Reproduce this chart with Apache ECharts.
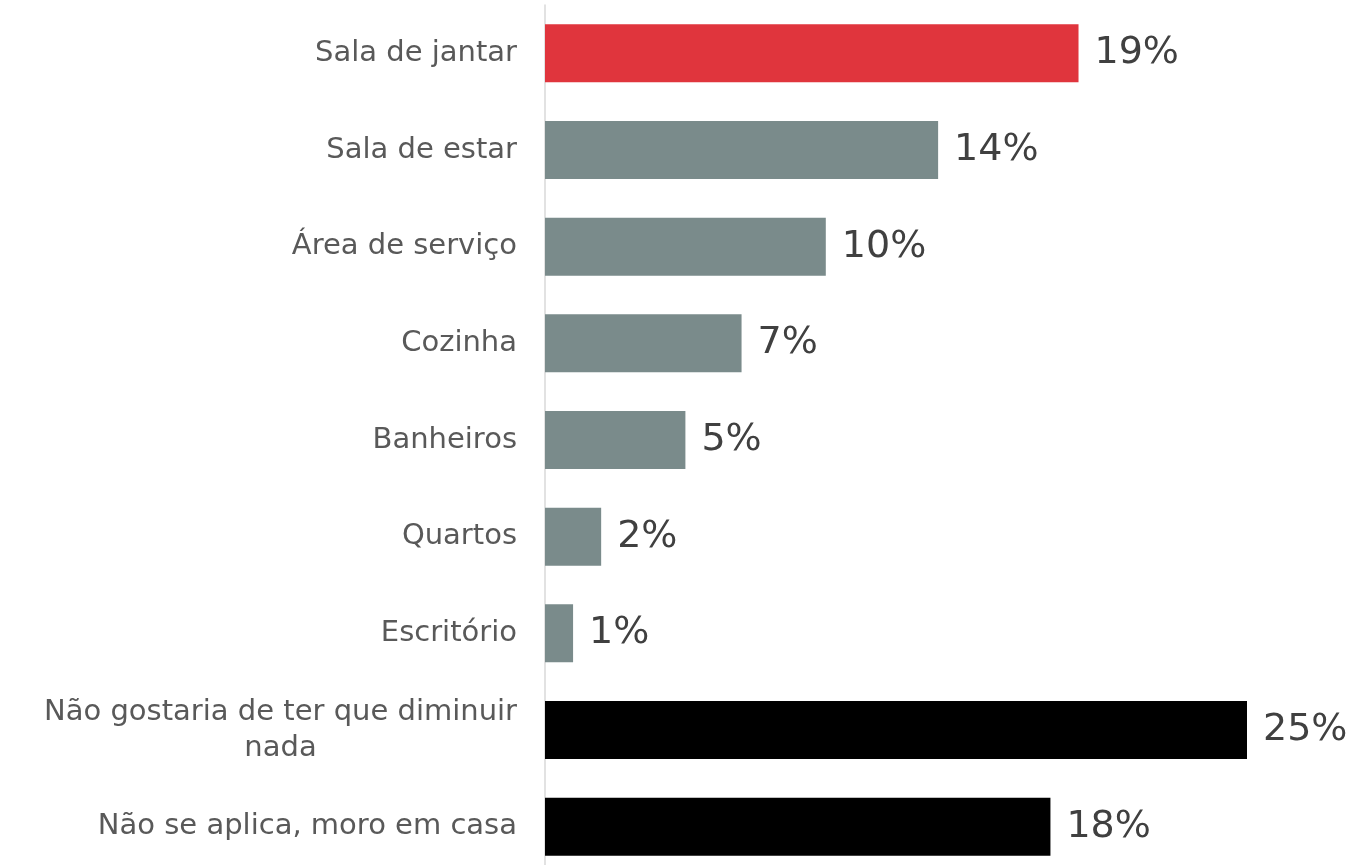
<!DOCTYPE html>
<html>
<head>
<meta charset="utf-8">
<script src="https://cdn.jsdelivr.net/npm/echarts@6/dist/echarts.min.js"></script>
<style>
  html, body { margin: 0; padding: 0; background: #ffffff; overflow: hidden; }
  #chart { width: 1369px; height: 880px; }
</style>
</head>
<body>
<div id="chart"></div>
<script>
// Cômodos que o entrevistado diminuiria (% de respostas)
const categories = [
  'Sala de jantar',
  'Sala de estar',
  'Área de serviço',
  'Cozinha',
  'Banheiros',
  'Quartos',
  'Escritório',
  'Não gostaria de ter que diminuir\nnada',
  'Não se aplica, moro em casa'
];
const values = [19, 14, 10, 7, 5, 2, 1, 25, 18];
const groups = ['destaque', 'comodo', 'comodo', 'comodo', 'comodo', 'comodo', 'comodo', 'outro', 'outro'];

const groupColors = { destaque: '#E0353D', comodo: '#7A8B8B', outro: '#000000' };
const FONT = '"DejaVu Sans", sans-serif';
const LABEL_SIZE = 29;

// width of the widest line, so multi-line labels can be centred inside it
function textWidth(str, size) {
  const c = document.createElement('canvas').getContext('2d');
  c.font = size + 'px ' + FONT;
  return c.measureText(str).width;
}

const chart = echarts.init(document.getElementById('chart'), null, { renderer: 'canvas' });

chart.setOption({
  animation: false,
  grid: { left: 545, top: 5, right: 122, bottom: 5, containLabel: false },
  xAxis: {
    type: 'value', min: 0, max: 25,
    show: false
  },
  yAxis: {
    type: 'category',
    data: categories,
    inverse: true,
    axisLine: { show: true, lineStyle: { color: '#D9D9D9', width: 1.5 } },
    axisTick: { show: false },
    axisLabel: {
      margin: 28,
      color: '#595959',
      fontFamily: FONT,
      fontSize: LABEL_SIZE,
      formatter: function (v) {
        if (v.indexOf('\n') < 0) return v;
        const lines = v.split('\n');
        return lines.map(l => '{m|' + l + '}').join('\n');
      },
      rich: {
        m: {
          color: '#595959',
          fontFamily: FONT,
          fontSize: LABEL_SIZE,
          lineHeight: 36,
          align: 'center',
          width: textWidth(categories[7].split('\n')[0], LABEL_SIZE)
        }
      }
    }
  },
  series: [{
    type: 'bar',
    barWidth: 58,
    data: values.map((v, i) => ({ value: v, itemStyle: { color: groupColors[groups[i]] } })),
    label: {
      show: true,
      position: 'right',
      distance: 16,
      formatter: '{c}%',
      color: '#404040',
      fontFamily: FONT,
      fontSize: 38
    }
  }]
});
</script>
</body>
</html>
